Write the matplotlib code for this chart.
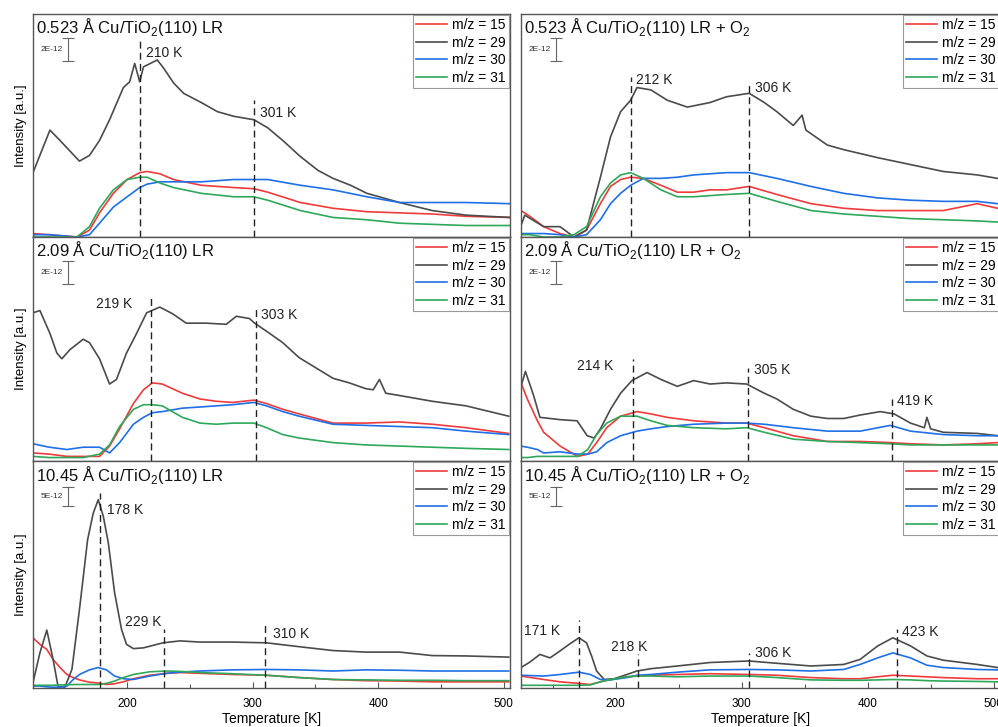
import matplotlib.pyplot as plt
from matplotlib.ticker import MultipleLocator

plt.rcParams['font.family'] = ['Liberation Sans', 'DejaVu Sans']
plt.rcParams['mathtext.fontset'] = 'custom'
plt.rcParams['mathtext.rm'] = 'Liberation Sans'

# intensities in units of 1e-12 (arbitrary offset), temperatures in K

# 0.523 A Cu/TiO2(110) LR
a_T = [125, 138, 160, 170, 178, 189, 200, 210, 216, 226, 237, 259, 285, 301, 312, 338, 364, 391, 417, 443, 470, 505]
a_15 = [0.3, 0.2, 0.0, 0.6, 2.1, 3.8, 5.0, 5.6, 5.7, 5.5, 5.0, 4.5, 4.3, 4.2, 3.9, 3.0, 2.5, 2.2, 2.1, 2.0, 1.8, 1.7]
a_30 = [0.2, 0.2, 0.0, 0.2, 1.2, 2.6, 3.5, 4.3, 4.6, 4.8, 4.8, 4.8, 5.0, 5.0, 5.0, 4.5, 4.1, 3.5, 3.0, 3.0, 3.0, 2.9]
a_31 = [0.0, 0.0, 0.0, 0.9, 2.5, 4.1, 5.0, 5.2, 5.2, 4.7, 4.3, 3.8, 3.5, 3.5, 3.2, 2.3, 1.7, 1.5, 1.2, 1.1, 1.0, 1.0]
a29_T = [125, 138.5, 146.5, 162, 170, 178, 186, 197, 202, 206, 210, 213, 224, 229, 237, 245, 259, 272, 285, 301,
         312, 325, 338, 352, 364, 378, 391, 404, 417, 443, 470, 505]
a_29 = [5.6, 9.3, 8.4, 6.6, 7.1, 8.4, 10.2, 13.0, 13.5, 15.1, 13.5, 14.8, 15.4, 14.7, 13.4, 12.5, 11.7, 10.9, 10.5, 10.2,
        9.5, 8.3, 7.0, 5.8, 5.1, 4.5, 3.8, 3.4, 3.0, 2.3, 1.9, 1.7]

# 0.523 A Cu/TiO2(110) LR + O2
b_T = [125, 132, 143, 156, 167, 177, 188, 196, 204, 212, 222, 236, 249, 262, 275, 288, 306, 328, 355, 381, 408, 434, 460, 487, 503]
b_15 = [2.3, 1.8, 0.9, 0.3, 0.0, 0.6, 2.9, 4.4, 5.0, 5.2, 5.1, 4.5, 3.9, 3.9, 4.1, 4.1, 4.4, 3.7, 2.9, 2.5, 2.3, 2.3, 2.3, 2.9, 2.5]
b_30 = [0.3, 0.3, 0.3, 0.2, 0.0, 0.2, 1.5, 2.9, 3.8, 4.5, 5.1, 5.1, 5.2, 5.4, 5.5, 5.6, 5.6, 5.1, 4.4, 3.8, 3.4, 3.2, 3.1, 3.1, 2.9]
b_31 = [0.2, 0.2, 0.0, 0.0, 0.2, 0.9, 3.5, 4.7, 5.4, 5.6, 5.1, 4.1, 3.5, 3.5, 3.6, 3.7, 3.8, 3.1, 2.3, 2.0, 1.8, 1.6, 1.5, 1.4, 1.3]
b29_T = [125, 128, 143, 156, 167, 177, 188, 196, 204, 212, 217, 228, 241, 257, 275, 288, 306, 318, 328, 341,
         348, 351, 368, 381, 408, 434, 460, 487, 503]
b_29 = [1.0, 1.9, 0.9, 0.9, 0.0, 0.6, 5.2, 8.7, 10.9, 11.9, 13.0, 12.8, 11.9, 11.3, 11.7, 12.2, 12.5, 11.7, 10.9, 9.7,
        10.6, 9.3, 8.0, 7.6, 6.9, 6.3, 5.7, 5.4, 5.1]

# 2.09 A Cu/TiO2(110) LR
c_T = [125, 138, 152, 165, 178, 186, 194, 205, 213, 220, 228, 244, 258, 271, 284, 301, 311, 324, 337, 364, 390, 417, 443, 470, 504]
c_15 = [0.7, 0.6, 0.4, 0.4, 0.4, 1.3, 2.8, 5.0, 6.2, 6.8, 6.7, 5.9, 5.4, 5.2, 5.1, 5.3, 5.0, 4.5, 4.1, 3.3, 3.3, 3.4, 3.2, 2.9, 2.4]
c_30 = [1.5, 1.2, 1.0, 1.2, 1.2, 0.7, 1.6, 3.2, 3.8, 4.2, 4.3, 4.6, 4.7, 4.8, 4.9, 5.1, 4.8, 4.3, 3.9, 3.2, 3.1, 3.0, 2.9, 2.6, 2.3]
c_31 = [0.4, 0.3, 0.3, 0.3, 0.6, 1.4, 3.0, 4.5, 4.9, 4.9, 4.8, 3.8, 3.3, 3.2, 3.3, 3.3, 2.9, 2.3, 2.0, 1.6, 1.4, 1.3, 1.2, 1.1, 1.0]
c29_T = [125, 130.5, 138.5, 144, 148, 154.5, 165, 170, 178, 186, 191.5, 199.5, 207.5, 215.5, 226, 236.5, 247, 263, 279, 287,
         297.5, 301.5, 311, 324, 337, 350.5, 364, 377, 390, 396, 401, 406, 417, 443, 470, 504]
c_29 = [12.9, 13.1, 11.1, 9.4, 8.9, 9.7, 10.6, 10.3, 8.9, 6.7, 7.1, 9.4, 11.1, 12.9, 13.4, 12.8, 12.0, 12.0, 11.9, 12.6,
        12.4, 12.0, 11.3, 10.3, 9.0, 8.1, 7.2, 6.8, 6.3, 6.2, 7.1, 5.9, 5.7, 5.2, 4.8, 3.9]

# 2.09 A Cu/TiO2(110) LR + O2
d_T = [125, 130, 138, 143, 156, 170, 178, 185, 193, 204, 217, 228, 241, 262, 288, 304, 318, 341, 368, 394, 418, 434, 460, 487, 503]
d_15 = [6.8, 5.4, 3.5, 2.5, 1.3, 0.4, 0.6, 1.6, 2.9, 3.9, 4.3, 4.1, 3.8, 3.5, 3.3, 3.3, 2.9, 2.2, 1.7, 1.7, 1.6, 1.5, 1.4, 1.5, 1.6]
d_30 = [1.3, 1.2, 1.0, 0.7, 0.8, 0.6, 0.6, 0.8, 1.6, 2.2, 2.6, 2.8, 3.0, 3.2, 3.3, 3.3, 3.2, 2.9, 2.6, 2.6, 3.1, 2.6, 2.3, 2.2, 2.2]
d_31 = [0.3, 0.3, 0.4, 0.4, 0.4, 0.4, 1.0, 2.3, 3.3, 3.9, 3.9, 3.5, 3.1, 2.9, 2.8, 2.9, 2.5, 1.9, 1.7, 1.6, 1.5, 1.4, 1.4, 1.4, 1.4]
d29_T = [125, 128.5, 135, 140, 156, 169.5, 177.5, 183, 188, 196, 204, 213, 225, 236, 249, 262, 275, 288, 304, 318,
         328, 341, 355, 368, 381, 394, 410, 421, 434, 445, 447, 450, 460, 487, 503]
d_29 = [6.5, 7.8, 5.7, 3.8, 3.6, 3.5, 2.2, 2.0, 2.8, 4.5, 5.9, 7.0, 7.7, 7.1, 6.5, 7.0, 6.7, 6.8, 6.7, 5.9,
        5.4, 4.5, 3.9, 3.7, 3.7, 4.0, 4.3, 4.1, 3.3, 2.9, 3.8, 2.8, 2.5, 2.4, 2.2]

# 10.45 A Cu/TiO2(110) LR
e_T = [125, 130.5, 136, 141, 146.5, 152, 157, 162, 170, 177, 183.5, 190, 197, 205, 218, 231.5, 242, 258, 284, 311,
       337, 364, 390, 417, 443, 470, 504]
e_15 = [13.0, 11.3, 10.0, 7.4, 5.3, 3.5, 2.7, 2.1, 1.5, 1.3, 0.9, 1.1, 1.6, 2.4, 3.3, 3.8, 4.0, 3.8, 3.5, 3.3,
        2.7, 2.2, 1.9, 1.8, 1.6, 1.6, 1.6]
e_30 = [0.5, 0.5, 0.3, 0.2, 0.2, 0.5, 2.2, 3.5, 4.7, 5.3, 4.7, 3.1, 2.4, 2.2, 3.1, 3.8, 4.1, 4.4, 4.7, 4.8,
        4.7, 4.4, 4.7, 4.6, 4.4, 4.4, 4.4]
e_31 = [0.7, 0.7, 0.7, 0.7, 0.8, 0.8, 0.9, 0.9, 0.9, 0.9, 1.2, 1.8, 2.7, 3.5, 4.2, 4.4, 4.3, 4.0, 3.7, 3.3,
        2.7, 2.2, 2.1, 2.0, 2.0, 1.9, 1.9]
e29_T = [125, 130.5, 136, 141, 145, 150.5, 156, 162, 168.5, 173, 177, 181, 185, 190, 195.5, 199.5, 205, 213, 228.5, 242,
         258, 284, 311, 337, 364, 390, 417, 443, 470, 504]
e_29 = [1.4, 9.1, 15.0, 7.4, 0.3, 0.3, 4.8, 20.3, 38.4, 45.3, 48.8, 44.5, 37.6, 24.7, 15.2, 11.3, 10.2, 10.4, 11.7, 12.2,
        11.9, 11.9, 11.7, 10.7, 9.7, 9.3, 9.3, 8.4, 8.3, 8.0]

# 10.45 A Cu/TiO2(110) LR + O2
f_T = [125, 143, 156, 171, 180, 188, 196, 209, 217, 228, 249, 275, 306, 328, 355, 381, 394, 408, 420, 434, 447, 460, 487, 503]
f_15 = [3.1, 2.2, 1.6, 1.2, 0.9, 1.6, 2.2, 2.9, 3.1, 3.3, 3.5, 3.7, 3.5, 3.3, 2.7, 2.4, 2.4, 2.9, 3.3, 3.1, 2.9, 2.7, 2.4, 2.4]
f_30 = [3.3, 3.1, 3.5, 4.1, 3.5, 2.2, 2.1, 2.7, 3.3, 3.5, 4.1, 4.7, 4.8, 4.7, 4.4, 4.8, 6.1, 7.8, 9.1, 7.8, 5.9, 5.3, 4.8, 4.7]
f_31 = [0.7, 0.7, 0.7, 0.7, 0.8, 1.6, 2.2, 2.9, 3.1, 3.1, 2.9, 3.1, 3.1, 2.7, 2.1, 2.0, 2.0, 2.1, 2.2, 2.1, 1.9, 1.8, 1.7, 1.6]
f29_T = [125, 132, 140, 148, 156, 164, 171, 177, 181, 185, 191, 199, 209, 217, 228, 249, 275, 306, 328, 355,
         381, 394, 408, 420, 434, 447, 460, 487, 503]
f_29 = [5.3, 6.7, 8.7, 7.8, 9.6, 11.5, 13.0, 11.7, 8.3, 4.4, 2.2, 2.4, 3.5, 4.4, 5.0, 5.7, 6.6, 7.0, 6.4, 5.7,
        6.1, 7.4, 10.9, 13.0, 10.9, 8.3, 7.2, 6.1, 5.3]

titles = ['0.523 Å Cu/TiO$_\\mathregular{2}$(110) LR',
          '0.523 Å Cu/TiO$_\\mathregular{2}$(110) LR + O$_\\mathregular{2}$',
          '2.09 Å Cu/TiO$_\\mathregular{2}$(110) LR',
          '2.09 Å Cu/TiO$_\\mathregular{2}$(110) LR + O$_\\mathregular{2}$',
          '10.45 Å Cu/TiO$_\\mathregular{2}$(110) LR',
          '10.45 Å Cu/TiO$_\\mathregular{2}$(110) LR + O$_\\mathregular{2}$']
scale_bars = [2, 2, 2, 2, 5, 5]
series_labels = ['m/z = 15', 'm/z = 29', 'm/z = 30', 'm/z = 31']

# peak markers: (temperature, top of dashed line)
peaks_a = [(210, 17.3), (301, 11.9)]
peaks_b = [(212, 13.9), (306, 13.4)]
peaks_c = [(219, 14.4), (303, 13.2)]
peaks_d = [(214, 8.9), (305, 8.1), (419, 5.4)]
peaks_e = [(178, 50.5), (229, 15.2), (310, 16.3)]
peaks_f = [(171, 17.5), (218, 8.7), (306, 9.0), (423, 15.2)]

# label placement per peak: (dx in K, y of label, ha)
label_pos = [
    [(5, 16.0, 'left'), (5, 10.8, 'left')],
    [(4, 13.7, 'left'), (5, 13.0, 'left')],
    [(-15, 13.7, 'right'), (4, 12.7, 'left')],
    [(-16, 8.3, 'right'), (5, 7.9, 'left'), (4, 5.2, 'left')],
    [(6, 46.0, 'left'), (-1.5, 17.1, 'right'), (6, 14.1, 'left')],
    [(-15, 14.7, 'right'), (-7, 10.7, 'center'), (5, 9.0, 'left'), (4, 14.6, 'left')],
]

panels = [
    (a_T, a_15, a29_T, a_29, a_30, a_31, peaks_a),
    (b_T, b_15, b29_T, b_29, b_30, b_31, peaks_b),
    (c_T, c_15, c29_T, c_29, c_30, c_31, peaks_c),
    (d_T, d_15, d29_T, d_29, d_30, d_31, peaks_d),
    (e_T, e_15, e29_T, e_29, e_30, e_31, peaks_e),
    (f_T, f_15, f29_T, f_29, f_30, f_31, peaks_f),
]

RED, DARK, BLUE, GREEN = '#ef3b3b', '#4b4b4b', '#1f6fe6', '#2ea85a'
SPINE = '#555555'

W, H = 998, 727
fig = plt.figure(figsize=(W / 100, H / 100), dpi=100)

cols = [(33, 510), (521, 1000)]
rows = [(14, 237), (237, 461), (461, 688)]
ytops = [19.4, 19.5, 58.8]

for i, (tc, s15, t29, s29, s30, s31, peaks) in enumerate(panels):
    r, c = divmod(i, 2)
    x0, x1 = cols[c]
    y0, y1 = rows[r]
    ax = fig.add_axes([x0 / W, 1 - y1 / H, (x1 - x0) / W, (y1 - y0) / H])

    l15, = ax.plot(tc, s15, color=RED, lw=1.2)
    l29, = ax.plot(t29, s29, color=DARK, lw=1.2)
    l30, = ax.plot(tc, s30, color=BLUE, lw=1.2)
    l31, = ax.plot(tc, s31, color=GREEN, lw=1.2)

    ax.set_xlim(125, 505)
    ax.set_ylim(0, ytops[r])
    ax.set_yticks([])

    for (tp, top), (dx, ly, ha) in zip(peaks, label_pos[i]):
        ax.vlines(tp, 0, top, colors='#222222', linestyles=(0, (5, 3)), lw=1.0)
        ax.text(tp + dx, ly, f'{tp} K', fontsize=10, ha=ha, va='center', color='#222222')

    # scale bar
    bar = scale_bars[i]
    ymid = 0.843 * ytops[r]
    ax.errorbar([153], [ymid], yerr=[bar / 2], fmt='none', ecolor='#666666',
                elinewidth=0.8, capsize=4, capthick=0.8)
    ax.text(149, ymid, f'{bar}E-12', fontsize=6, ha='right', va='center', color='#333333')

    ax.text(0.006, 0.913, titles[i], transform=ax.transAxes, fontsize=12,
            ha='left', va='baseline', color='#111111')

    leg = ax.legend([l15, l29, l30, l31], series_labels, loc='upper right', fontsize=10,
                    frameon=True, fancybox=False, edgecolor='#999999', framealpha=1,
                    handlelength=2.2, handletextpad=0.4, labelspacing=0.25,
                    borderpad=0.25, borderaxespad=0.05)
    leg.get_frame().set_linewidth(0.8)

    for sp in ax.spines.values():
        sp.set_color(SPINE)
        sp.set_linewidth(1.0)

    if r == 2:
        ax.xaxis.set_major_locator(MultipleLocator(100))
        ax.xaxis.set_minor_locator(MultipleLocator(50))
        ax.tick_params(axis='x', which='both', direction='in', color=SPINE, width=0.8,
                       labelsize=8.5, pad=7)
        ax.tick_params(axis='x', which='major', length=4)
        ax.tick_params(axis='x', which='minor', length=3)
        ax.set_xlabel('Temperature [K]', fontsize=10, labelpad=2)
    else:
        ax.tick_params(axis='x', which='both', bottom=False, labelbottom=False)

    if c == 0:
        ax.set_ylabel('Intensity [a.u.]', fontsize=9.5)
        ax.yaxis.set_label_coords(-0.012, 0.5)

fig.savefig('out.png', dpi=100)
